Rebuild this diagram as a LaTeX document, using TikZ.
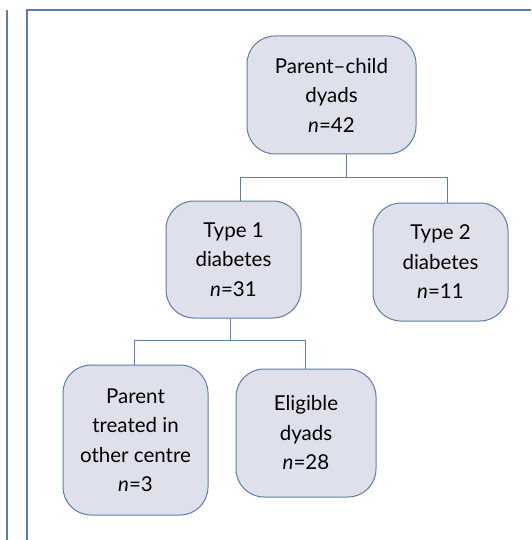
\documentclass[tikz,border=0pt]{standalone}
\usepackage{fontspec}
\setmainfont{Lato}
\definecolor{boxfill}{HTML}{DEE1EB}
\definecolor{boxline}{HTML}{5D7DA6}
\begin{document}
\begin{tikzpicture}[x=1pt,y=-1pt,
  flowbox/.style={draw=boxline,fill=boxfill,line width=1pt,rounded corners=28pt,
    align=center,inner sep=0pt,font=\fontsize{20.5}{29.5}\selectfont,text=black},
  link/.style={draw=boxline,line width=1pt},
  frameline/.style={draw=boxline,line width=1.3pt}]
\useasboundingbox (0,0) rectangle (531,540);
\draw[frameline] (7,10) -- (7,540);
\draw[frameline] (27,540) -- (27,10) -- (531,10);
\node[flowbox,minimum width=169pt,minimum height=118pt] (top) at (331.5,95) {Parent--child\\dyads\\\textit{n}=42};
\node[flowbox,minimum width=135pt,minimum height=117pt] (t1) at (233.5,259.5) {Type 1\\diabetes\\\textit{n}=31};
\node[flowbox,minimum width=135pt,minimum height=118pt] (t2) at (440.5,262) {Type 2\\diabetes\\\textit{n}=11};
\node[flowbox,minimum width=145pt,minimum height=150pt] (pt) at (135.5,440) {Parent\\treated in\\other centre\\\textit{n}=3};
\node[flowbox,minimum width=140pt,minimum height=128pt] (el) at (306,433) {Eligible\\dyads\\\textit{n}=28};
\draw[link] ([xshift=14.5pt]top.south) -- ++(0,23) coordinate (j1);
\draw[link] ([xshift=6.5pt]t1.north) |- (j1) -| ([xshift=6.5pt]t2.north);
\draw[link] ([xshift=-3.5pt]t1.south) -- ++(0,22) coordinate (j2);
\draw[link] ([xshift=-1.5pt]pt.north) |- (j2) -| ([xshift=-1pt]el.north);
\end{tikzpicture}
\end{document}
